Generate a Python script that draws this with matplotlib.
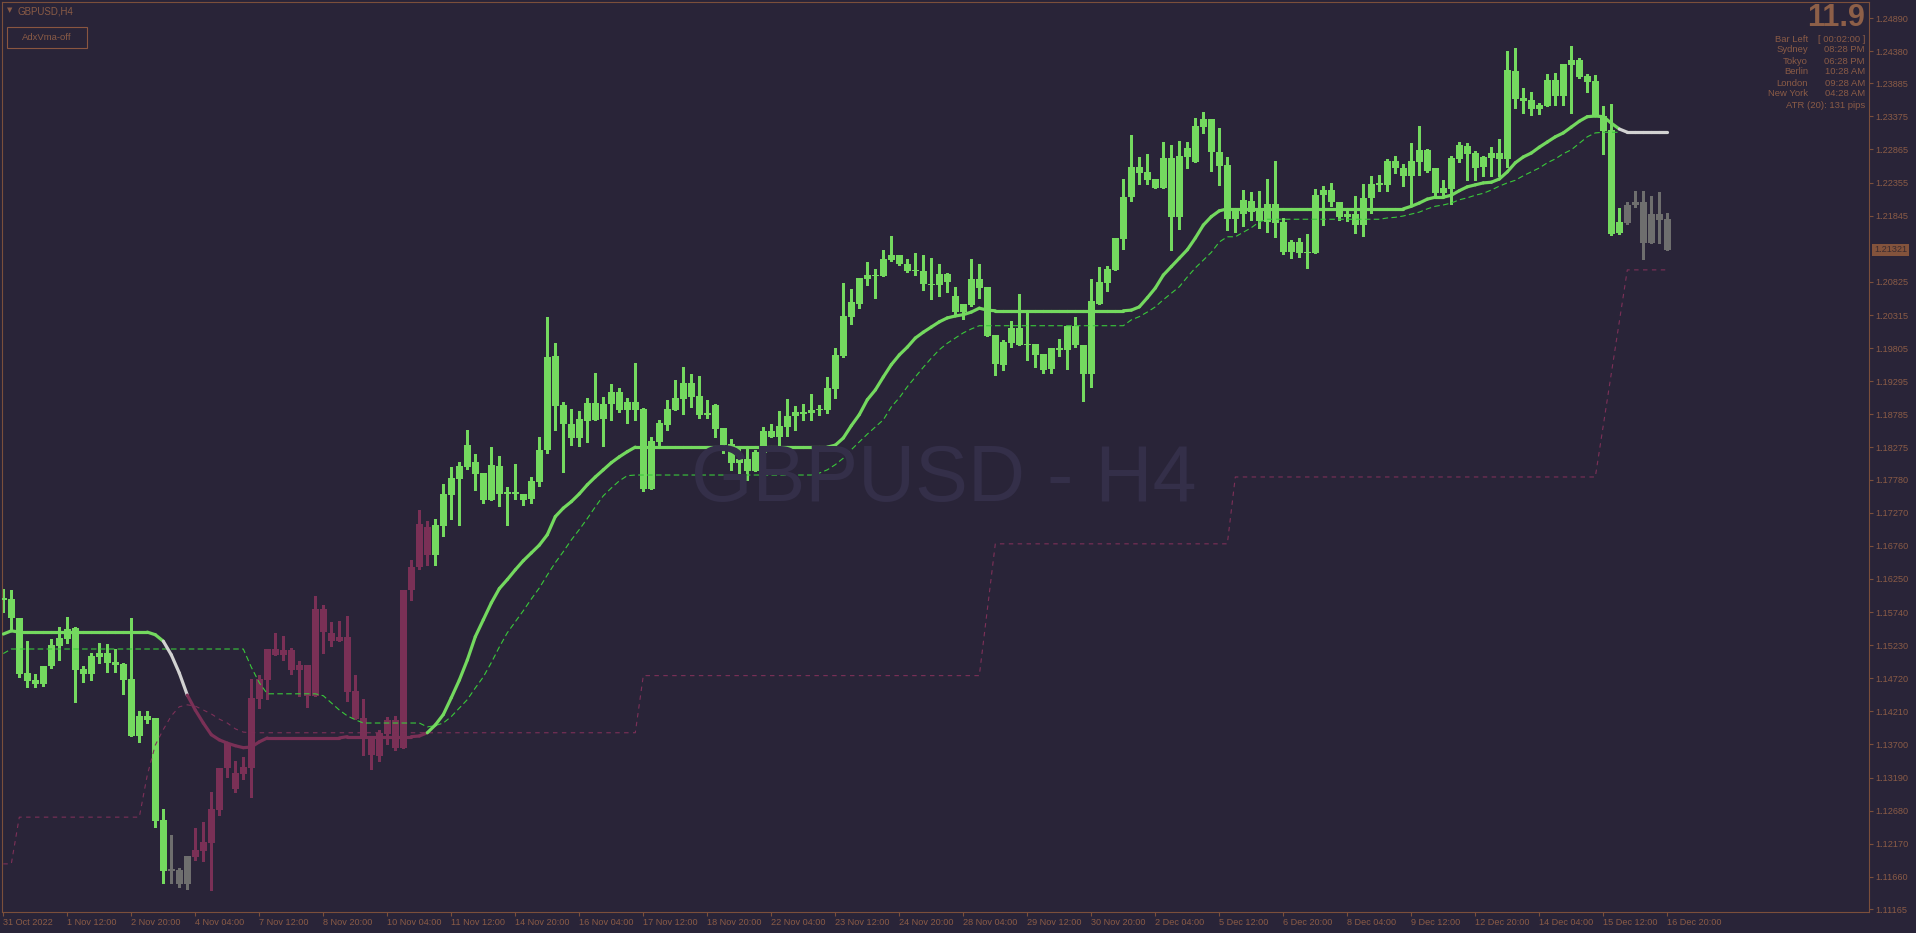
import matplotlib
matplotlib.use('Agg')
import matplotlib.pyplot as plt
import matplotlib.transforms as mtransforms
from matplotlib.patches import Rectangle
from matplotlib.collections import LineCollection, PatchCollection
import numpy as np

plt.rcParams['font.family'] = ['Liberation Sans', 'DejaVu Sans']

# ---------------- data ----------------
symbol_title = "GBPUSD,H4"
watermark = "GBPUSD - H4"
button_label = "AdxVma-off"

opens = [
    1.1595, 1.1594, 1.1565, 1.1480, 1.1469, 1.1463, 1.1491, 1.1522, 1.1533, 1.1549,
    1.1486, 1.1479, 1.1505, 1.1511, 1.1497, 1.1494, 1.1471, 1.1383, 1.1414, 1.1410,
    1.1254, 1.1175, 1.1176, 1.1155, 1.1197, 1.1206, 1.1218, 1.1269, 1.1333, 1.1326,
    1.1325, 1.1334, 1.1440, 1.1469, 1.1517, 1.1508, 1.1516, 1.1485, 1.1493, 1.1445,
    1.1579, 1.1542, 1.1530, 1.1536, 1.1453, 1.1411, 1.1383, 1.1352, 1.1386, 1.1408,
    1.1365, 1.1608, 1.1644, 1.1705, 1.1662, 1.1707, 1.1754, 1.1779, 1.1798, 1.1805,
    1.1788, 1.1747, 1.1799, 1.1756, 1.1759, 1.1756, 1.1748, 1.1774, 1.1824, 1.1968,
    1.1893, 1.1864, 1.1842, 1.1868, 1.1896, 1.1871, 1.1895, 1.1913, 1.1885, 1.1898,
    1.1887, 1.1764, 1.1836, 1.1862, 1.1885, 1.1902, 1.1927, 1.1907, 1.1878, 1.1893,
    1.1858, 1.1833, 1.1804, 1.1810, 1.1791, 1.1819, 1.1853, 1.1844, 1.1859, 1.1876,
    1.1882, 1.1881, 1.1885, 1.1885, 1.1918, 1.1968, 1.2029, 1.2049, 1.2087, 1.2093,
    1.2092, 1.2116, 1.2124, 1.2110, 1.2099, 1.2099, 1.2079, 1.2078, 1.2095, 1.2061,
    1.2036, 1.2047, 1.2087, 1.2074, 1.2001, 1.1955, 1.1988, 1.2012, 1.1985, 1.1987,
    1.1972, 1.1948, 1.1981, 1.1978, 1.2015, 1.1985, 1.1941, 1.2049, 1.2081, 1.2101,
    1.2149, 1.2213, 1.2260, 1.2252, 1.2241, 1.2227, 1.2273, 1.2182, 1.2275, 1.2267,
    1.2321, 1.2333, 1.2283, 1.2263, 1.2179, 1.2187, 1.2207, 1.2193, 1.2175, 1.2203,
    1.2175, 1.2129, 1.2144, 1.2127, 1.2127, 1.2216, 1.2224, 1.2206, 1.2182, 1.2187,
    1.2170, 1.2212, 1.2232, 1.2232, 1.2269, 1.2258, 1.2246, 1.2267, 1.2286, 1.2258,
    1.2219, 1.2226, 1.2272, 1.2292, 1.2281, 1.2259, 1.2273, 1.2281, 1.2272, 1.2407,
    1.2366, 1.2363, 1.2349, 1.2353, 1.2393, 1.2369, 1.2417, 1.2424, 1.2400, 1.2392,
    1.2338, 1.2317, 1.2158, 1.2173, 1.2201, 1.2206, 1.2143, 1.2187, 1.2179,
]
highs = [
    1.1610, 1.1608, 1.1565, 1.1530, 1.1479, 1.1491, 1.1533, 1.1551, 1.1567, 1.1551,
    1.1491, 1.1511, 1.1527, 1.1525, 1.1517, 1.1496, 1.1565, 1.1422, 1.1422, 1.1410,
    1.1271, 1.1231, 1.1180, 1.1198, 1.1242, 1.1251, 1.1297, 1.1334, 1.1374, 1.1345,
    1.1351, 1.1471, 1.1477, 1.1517, 1.1542, 1.1537, 1.1519, 1.1499, 1.1493, 1.1599,
    1.1585, 1.1559, 1.1560, 1.1568, 1.1477, 1.1440, 1.1383, 1.1393, 1.1413, 1.1414,
    1.1608, 1.1654, 1.1731, 1.1714, 1.1717, 1.1771, 1.1797, 1.1805, 1.1854, 1.1818,
    1.1788, 1.1828, 1.1814, 1.1767, 1.1802, 1.1756, 1.1782, 1.1844, 1.2029, 1.1988,
    1.1898, 1.1887, 1.1884, 1.1904, 1.1942, 1.1905, 1.1925, 1.1919, 1.1904, 1.1958,
    1.1888, 1.1844, 1.1870, 1.1901, 1.1931, 1.1951, 1.1941, 1.1938, 1.1901, 1.1895,
    1.1858, 1.1841, 1.1825, 1.1825, 1.1824, 1.1859, 1.1864, 1.1884, 1.1902, 1.1891,
    1.1895, 1.1910, 1.1893, 1.1936, 1.1981, 1.2081, 1.2072, 1.2089, 1.2113, 1.2102,
    1.2132, 1.2153, 1.2124, 1.2118, 1.2127, 1.2124, 1.2119, 1.2110, 1.2096, 1.2075,
    1.2049, 1.2118, 1.2110, 1.2074, 1.2001, 1.1993, 1.2022, 1.2064, 1.2035, 1.1987,
    1.1972, 1.1981, 1.1995, 1.2015, 1.2029, 1.1985, 1.2087, 1.2105, 1.2107, 1.2150,
    1.2241, 1.2309, 1.2275, 1.2280, 1.2241, 1.2298, 1.2293, 1.2300, 1.2298, 1.2335,
    1.2344, 1.2333, 1.2320, 1.2275, 1.2195, 1.2224, 1.2221, 1.2223, 1.2241, 1.2269,
    1.2181, 1.2147, 1.2150, 1.2156, 1.2226, 1.2230, 1.2235, 1.2206, 1.2193, 1.2215,
    1.2233, 1.2246, 1.2247, 1.2272, 1.2276, 1.2264, 1.2296, 1.2323, 1.2287, 1.2258,
    1.2239, 1.2276, 1.2298, 1.2296, 1.2284, 1.2276, 1.2290, 1.2303, 1.2438, 1.2443,
    1.2381, 1.2375, 1.2358, 1.2403, 1.2404, 1.2418, 1.2446, 1.2427, 1.2403, 1.2401,
    1.2353, 1.2357, 1.2196, 1.2206, 1.2223, 1.2223, 1.2215, 1.2221, 1.2189,
]
lows = [
    1.1574, 1.1547, 1.1474, 1.1459, 1.1459, 1.1460, 1.1488, 1.1500, 1.1527, 1.1436,
    1.1466, 1.1469, 1.1496, 1.1482, 1.1482, 1.1448, 1.1383, 1.1374, 1.1403, 1.1243,
    1.1157, 1.1157, 1.1150, 1.1148, 1.1192, 1.1191, 1.1145, 1.1262, 1.1320, 1.1297,
    1.1317, 1.1289, 1.1426, 1.1440, 1.1508, 1.1500, 1.1479, 1.1445, 1.1428, 1.1445,
    1.1511, 1.1522, 1.1530, 1.1437, 1.1409, 1.1354, 1.1332, 1.1345, 1.1371, 1.1362,
    1.1365, 1.1593, 1.1640, 1.1647, 1.1647, 1.1691, 1.1717, 1.1708, 1.1794, 1.1762,
    1.1742, 1.1747, 1.1737, 1.1708, 1.1748, 1.1739, 1.1742, 1.1768, 1.1819, 1.1854,
    1.1790, 1.1831, 1.1830, 1.1836, 1.1870, 1.1830, 1.1870, 1.1882, 1.1865, 1.1870,
    1.1761, 1.1764, 1.1827, 1.1854, 1.1885, 1.1879, 1.1890, 1.1873, 1.1873, 1.1844,
    1.1819, 1.1793, 1.1785, 1.1777, 1.1791, 1.1814, 1.1844, 1.1825, 1.1845, 1.1854,
    1.1870, 1.1870, 1.1878, 1.1881, 1.1904, 1.1967, 1.2018, 1.2042, 1.2078, 1.2058,
    1.2092, 1.2115, 1.2109, 1.2098, 1.2093, 1.2070, 1.2056, 1.2061, 1.2067, 1.2033,
    1.2025, 1.2045, 1.2058, 1.1999, 1.1939, 1.1947, 1.1982, 1.1985, 1.1962, 1.1951,
    1.1942, 1.1942, 1.1968, 1.1948, 1.1982, 1.1899, 1.1921, 1.2049, 1.2068, 1.2101,
    1.2133, 1.2207, 1.2233, 1.2233, 1.2227, 1.2227, 1.2132, 1.2164, 1.2258, 1.2267,
    1.2312, 1.2253, 1.2232, 1.2162, 1.2159, 1.2169, 1.2178, 1.2166, 1.2159, 1.2152,
    1.2125, 1.2119, 1.2121, 1.2104, 1.2127, 1.2170, 1.2199, 1.2178, 1.2176, 1.2158,
    1.2153, 1.2189, 1.2222, 1.2222, 1.2250, 1.2230, 1.2199, 1.2247, 1.2252, 1.2215,
    1.2215, 1.2203, 1.2267, 1.2239, 1.2239, 1.2246, 1.2246, 1.2246, 1.2260, 1.2350,
    1.2343, 1.2340, 1.2341, 1.2353, 1.2355, 1.2355, 1.2343, 1.2397, 1.2375, 1.2338,
    1.2280, 1.2155, 1.2156, 1.2172, 1.2198, 1.2118, 1.2143, 1.2143, 1.2132,
]
closes = [
    1.1593, 1.1564, 1.1479, 1.1468, 1.1463, 1.1491, 1.1523, 1.1534, 1.1548, 1.1485,
    1.1479, 1.1506, 1.1511, 1.1496, 1.1493, 1.1469, 1.1383, 1.1414, 1.1408, 1.1252,
    1.1175, 1.1178, 1.1155, 1.1198, 1.1208, 1.1220, 1.1271, 1.1334, 1.1372, 1.1302,
    1.1335, 1.1442, 1.1471, 1.1517, 1.1508, 1.1516, 1.1485, 1.1493, 1.1445, 1.1579,
    1.1543, 1.1530, 1.1536, 1.1451, 1.1409, 1.1383, 1.1354, 1.1388, 1.1408, 1.1365,
    1.1608, 1.1644, 1.1710, 1.1662, 1.1708, 1.1756, 1.1781, 1.1799, 1.1831, 1.1787,
    1.1747, 1.1801, 1.1756, 1.1759, 1.1756, 1.1747, 1.1776, 1.1824, 1.1967, 1.1891,
    1.1864, 1.1842, 1.1871, 1.1896, 1.1870, 1.1895, 1.1913, 1.1885, 1.1898, 1.1885,
    1.1764, 1.1838, 1.1865, 1.1887, 1.1904, 1.1927, 1.1905, 1.1878, 1.1881, 1.1856,
    1.1831, 1.1804, 1.1810, 1.1791, 1.1821, 1.1853, 1.1844, 1.1861, 1.1876, 1.1882,
    1.1879, 1.1885, 1.1887, 1.1919, 1.1970, 1.2030, 1.2052, 1.2089, 1.2093, 1.2092,
    1.2118, 1.2124, 1.2110, 1.2099, 1.2101, 1.2079, 1.2078, 1.2095, 1.2082, 1.2036,
    1.2049, 1.2087, 1.2073, 1.1999, 1.1956, 1.1990, 1.2012, 1.1985, 1.1987, 1.1970,
    1.1947, 1.1981, 1.1978, 1.2015, 1.1985, 1.1941, 1.2053, 1.2082, 1.2102, 1.2150,
    1.2213, 1.2260, 1.2250, 1.2239, 1.2227, 1.2273, 1.2182, 1.2276, 1.2289, 1.2323,
    1.2333, 1.2283, 1.2261, 1.2179, 1.2195, 1.2209, 1.2190, 1.2176, 1.2203, 1.2173,
    1.2129, 1.2144, 1.2127, 1.2129, 1.2216, 1.2224, 1.2206, 1.2182, 1.2187, 1.2170,
    1.2212, 1.2233, 1.2235, 1.2269, 1.2258, 1.2246, 1.2269, 1.2286, 1.2253, 1.2219,
    1.2227, 1.2273, 1.2293, 1.2280, 1.2258, 1.2275, 1.2281, 1.2272, 1.2409, 1.2364,
    1.2361, 1.2349, 1.2355, 1.2393, 1.2369, 1.2418, 1.2424, 1.2398, 1.2390, 1.2338,
    1.2315, 1.2156, 1.2175, 1.2201, 1.2206, 1.2143, 1.2187, 1.2178, 1.21321,
]
# candle colour state (trend of the AdxVma): runs
candle_state = ['up'] * 21 + ['flat'] * 3 + ['down'] * 30 + ['up'] * 149 + ['flat'] * 6

# thick AdxVma line
adx_line = ([1.1540, 1.1545] + [1.1543] * 17 +
            [1.1539, 1.1529, 1.1508, 1.1480, 1.1446, 1.1423, 1.1403, 1.1385, 1.1377,
             1.1372, 1.1368, 1.1365, 1.1366, 1.1374] +
            [1.1380] * 10 + [1.1382] * 9 +
            [1.1383, 1.1388, 1.1400, 1.1416, 1.1442, 1.1469, 1.1500, 1.1536, 1.1562,
             1.1588, 1.1610, 1.1624, 1.1639, 1.1653, 1.1665, 1.1677, 1.1693, 1.1721,
             1.1734, 1.1744, 1.1756, 1.1770, 1.1782, 1.1793, 1.1804, 1.1813, 1.1821] +
            [1.1828] * 25 +
            [1.1831, 1.1842, 1.1861, 1.1878, 1.1901, 1.1916, 1.1936, 1.1955, 1.1970,
             1.1982, 1.1996, 1.2005, 1.2013, 1.2021, 1.2027, 1.2030, 1.2032, 1.2036,
             1.2042, 1.2039] +
            [1.2038] * 17 +
            [1.2039, 1.2044, 1.2058, 1.2073, 1.2093, 1.2106, 1.2119, 1.2132, 1.2150,
             1.2170, 1.2183, 1.2192] +
            [1.2195] * 23 +
            [1.2199, 1.2204, 1.2210, 1.2213, 1.2213, 1.2216, 1.2223, 1.2229, 1.2232,
             1.2235, 1.2236, 1.2241, 1.2252, 1.2266, 1.2275, 1.2281, 1.2290, 1.2298,
             1.2306, 1.2312, 1.2321, 1.2330, 1.2337, 1.2338, 1.2337, 1.2327, 1.2318] +
            [1.2313] * 6)
adx_state = ['up'] * 20 + ['flat'] * 3 + ['down'] * 30 + ['up'] * 149 + ['flat'] * 7

# thin dashed green line
signal_line = ([1.1510] + [1.1517] * 30 + [1.1489, 1.1465] + [1.1448] * 7 +
               [1.1445, 1.1434, 1.1423, 1.1414, 1.1408] + [1.1403] * 8 +
               [1.1397, 1.1399, 1.1403, 1.1413, 1.1426, 1.1439, 1.1457, 1.1474, 1.1496,
                1.1520, 1.1542, 1.1559, 1.1576, 1.1594, 1.1611, 1.1631, 1.1650, 1.1667,
                1.1685, 1.1701, 1.1718, 1.1736, 1.1753, 1.1765, 1.1776, 1.1784] +
               [1.1785] * 23 +
               [1.1788, 1.1793, 1.1801, 1.1811, 1.1824, 1.1836, 1.1848, 1.1859, 1.1870,
                1.1890, 1.1904, 1.1921, 1.1936, 1.1951, 1.1965, 1.1978, 1.1988, 1.1996,
                1.2004, 1.2010] +
               [1.2015] * 19 +
               [1.2024, 1.2029, 1.2036, 1.2044, 1.2055, 1.2065, 1.2075, 1.2090, 1.2104,
                1.2116, 1.2128, 1.2144, 1.2152, 1.2152, 1.2159, 1.2166, 1.2175] +
               [1.2179] * 15 +
               [1.2181, 1.2182, 1.2184, 1.2187, 1.2190, 1.2195, 1.2199, 1.2201, 1.2204,
                1.2209, 1.2212, 1.2216, 1.2219, 1.2224, 1.2230, 1.2235, 1.2239, 1.2246,
                1.2252, 1.2258, 1.2266, 1.2272, 1.2280, 1.2286, 1.2296, 1.2306, 1.2312,
                1.2313, 1.2313, 1.2313] +
               [None] * 6)

# dashed maroon stop line
stop_line = ([1.1186] * 2 + [1.1258] * 16 +
             [1.1323, 1.1369, 1.1393, 1.1414, 1.1428, 1.1431, 1.1429, 1.1423, 1.1417,
              1.1409, 1.1403, 1.1394, 1.1389] +
             [1.1388] * 49 + [1.1476] * 43 + [1.1577] + [1.1679] * 30 + [1.1782] * 46 +
             [1.1862, 1.1942, 1.2021] + [1.2101] * 6)

x_labels = ["31 Oct 2022", "1 Nov 12:00", "2 Nov 20:00", "4 Nov 04:00", "7 Nov 12:00",
            "8 Nov 20:00", "10 Nov 04:00", "11 Nov 12:00", "14 Nov 20:00", "16 Nov 04:00",
            "17 Nov 12:00", "18 Nov 20:00", "22 Nov 04:00", "23 Nov 12:00", "24 Nov 20:00",
            "28 Nov 04:00", "29 Nov 12:00", "30 Nov 20:00", "2 Dec 04:00", "5 Dec 12:00",
            "6 Dec 20:00", "8 Dec 04:00", "9 Dec 12:00", "12 Dec 20:00", "14 Dec 04:00",
            "15 Dec 12:00", "16 Dec 20:00"]
x_label_bars = list(range(0, 209, 8))

y_labels = ["1.24890", "1.24380", "1.23885", "1.23375", "1.22865", "1.22355", "1.21845",
            "1.20825", "1.20315", "1.19805", "1.19295", "1.18785", "1.18275", "1.17780",
            "1.17270", "1.16760", "1.16250", "1.15740", "1.15230", "1.14720", "1.14210",
            "1.13700", "1.13190", "1.12680", "1.12170", "1.11660", "1.11165"]
current_price_label = "1.21321"

info_big = "11.9"
info_rows = [("Bar Left", "[ 00:02:00 ]"), ("Sydney", "08:28 PM"), ("Tokyo", "06:28 PM"),
             ("Berlin", "10:28 AM"), ("London", "09:28 AM"), ("New York", "04:28 AM")]
info_atr = "ATR (20): 131 pips"

# ---------------- style ----------------
BG = '#292438'
LINE_BROWN = '#7b4f3b'
TXT = '#8a5b46'
GREEN = '#74d95f'
MAROON = '#7a3056'
GRAY = '#6e6e6e'
WHITE = '#d2d2d2'
DGREEN = '#39c83a'
DMAROON = '#7d3058'
WM = '#342f49'
state_col = {'up': GREEN, 'down': MAROON, 'flat': GRAY}
adx_col = {'up': GREEN, 'down': MAROON, 'flat': WHITE}

W, H = 1916, 933
fig = plt.figure(figsize=(W / 100, H / 100), dpi=100)
fig.patch.set_facecolor(BG)


def fx(px):
    return px / W


def fy(py):
    return 1 - py / H


ax = fig.add_axes([fx(2), fy(912), fx(1869) - fx(2), fy(2) - fy(912)])
ax.set_facecolor(BG)
ax.set_xlim(-0.1625, 233.21)
ax.set_ylim(1.111188, 1.251365)

n = len(closes)
xs = np.arange(n)

# watermark
fig.text(fx(944), fy(481), watermark, fontsize=57, color=WM, ha='center', va='center',
         family=['Liberation Sans'], zorder=0)

# candles
px_price = (1.251365 - 1.111188) / 910.0
rects, rcols = [], []
wsegs, wcols = [], []
for i in range(n):
    col = state_col[candle_state[i]]
    o, h, l, c = opens[i], highs[i], lows[i], closes[i]
    lo, hi = min(o, c), max(o, c)
    if hi - lo < px_price:
        mid = (hi + lo) / 2
        lo, hi = mid - px_price / 2, mid + px_price / 2
    rects.append(Rectangle((i - 0.43, lo), 0.86, hi - lo))
    rcols.append(col)
    wsegs.append([(i, l), (i, h)])
    wcols.append(col)
ax.add_collection(LineCollection(wsegs, colors=wcols, linewidths=0.8, zorder=2,
                                 antialiaseds=False))
ax.add_collection(PatchCollection(rects, facecolors=rcols, edgecolors='none', zorder=3,
                                  antialiaseds=False))

# stop line (maroon dashed)
ax.plot(xs, stop_line, color=DMAROON, lw=0.8, dashes=(4, 4), zorder=4)
# signal line (green dashed)
sig = np.array(signal_line, dtype=float)
ax.plot(xs, sig, color=DGREEN, lw=0.8, dashes=(5, 3), zorder=4)
# AdxVma thick line
adx = np.array(adx_line)
segs = [[(i, adx[i]), (i + 1, adx[i + 1])] for i in range(n - 1)]
cols = [adx_col[adx_state[i]] for i in range(n - 1)]
ax.add_collection(LineCollection(segs, colors=cols, linewidths=2.3, capstyle='round',
                                 zorder=5))

# axes styling
for s in ax.spines.values():
    s.set_color(LINE_BROWN)
    s.set_linewidth(0.8)
ax.yaxis.tick_right()
ax.set_yticks([float(v) for v in y_labels])
ax.set_yticklabels(y_labels)
ax.set_xticks(x_label_bars)
ax.set_xticklabels(x_labels)
ax.tick_params(axis='y', which='both', right=True, left=False, labelright=True, labelleft=False,
               direction='out', length=2.6, width=0.8, color=LINE_BROWN, pad=2.2,
               labelsize=6.6, labelcolor=TXT)
ax.tick_params(axis='x', which='both', bottom=True, top=False, direction='out', length=2.6,
               width=0.8, color=LINE_BROWN, pad=1.6, labelsize=6.6, labelcolor=TXT)
for lbl in ax.get_xticklabels():
    lbl.set_ha('left')

# current price label
trans = mtransforms.blended_transform_factory(fig.transFigure, ax.transData)
ax.text(fx(1874), closes[-1], current_price_label, transform=trans, fontsize=6.6,
        color='#3a2b30', ha='left', va='center', zorder=10, clip_on=False,
        bbox=dict(boxstyle='square,pad=0.18', fc='#83533c', ec='none'))

# top-left title and button
fig.text(fx(9.5), fy(10.5), '\u25BC', fontsize=5, color=TXT, ha='center', va='center',
         family=['DejaVu Sans'])
fig.text(fx(18), fy(11), symbol_title, fontsize=7, color=TXT, ha='left', va='center')
fig.add_artist(Rectangle((fx(7), fy(48)), fx(87) - fx(7), fy(27) - fy(48),
                         transform=fig.transFigure, fill=False, ec='#8a5640', lw=0.8))
fig.text(fx(47), fy(37.5), button_label, fontsize=6.8, color=TXT, ha='center', va='center')

# info panel top right
fig.text(fx(1865), fy(18.5), info_big, fontsize=22, fontweight='bold', color='#8d5f48',
         ha='right', va='center')
row_y = [39, 50, 61, 72, 83, 94]
for (lab, val), yy in zip(info_rows, row_y):
    fig.text(fx(1808), fy(yy), lab, fontsize=6.8, color=TXT, ha='right', va='center')
    fig.text(fx(1865), fy(yy), val, fontsize=6.8, color=TXT, ha='right', va='center')
fig.text(fx(1865), fy(105), info_atr, fontsize=6.8, color=TXT, ha='right', va='center')

fig.savefig('out.png', dpi=100, facecolor=BG)
